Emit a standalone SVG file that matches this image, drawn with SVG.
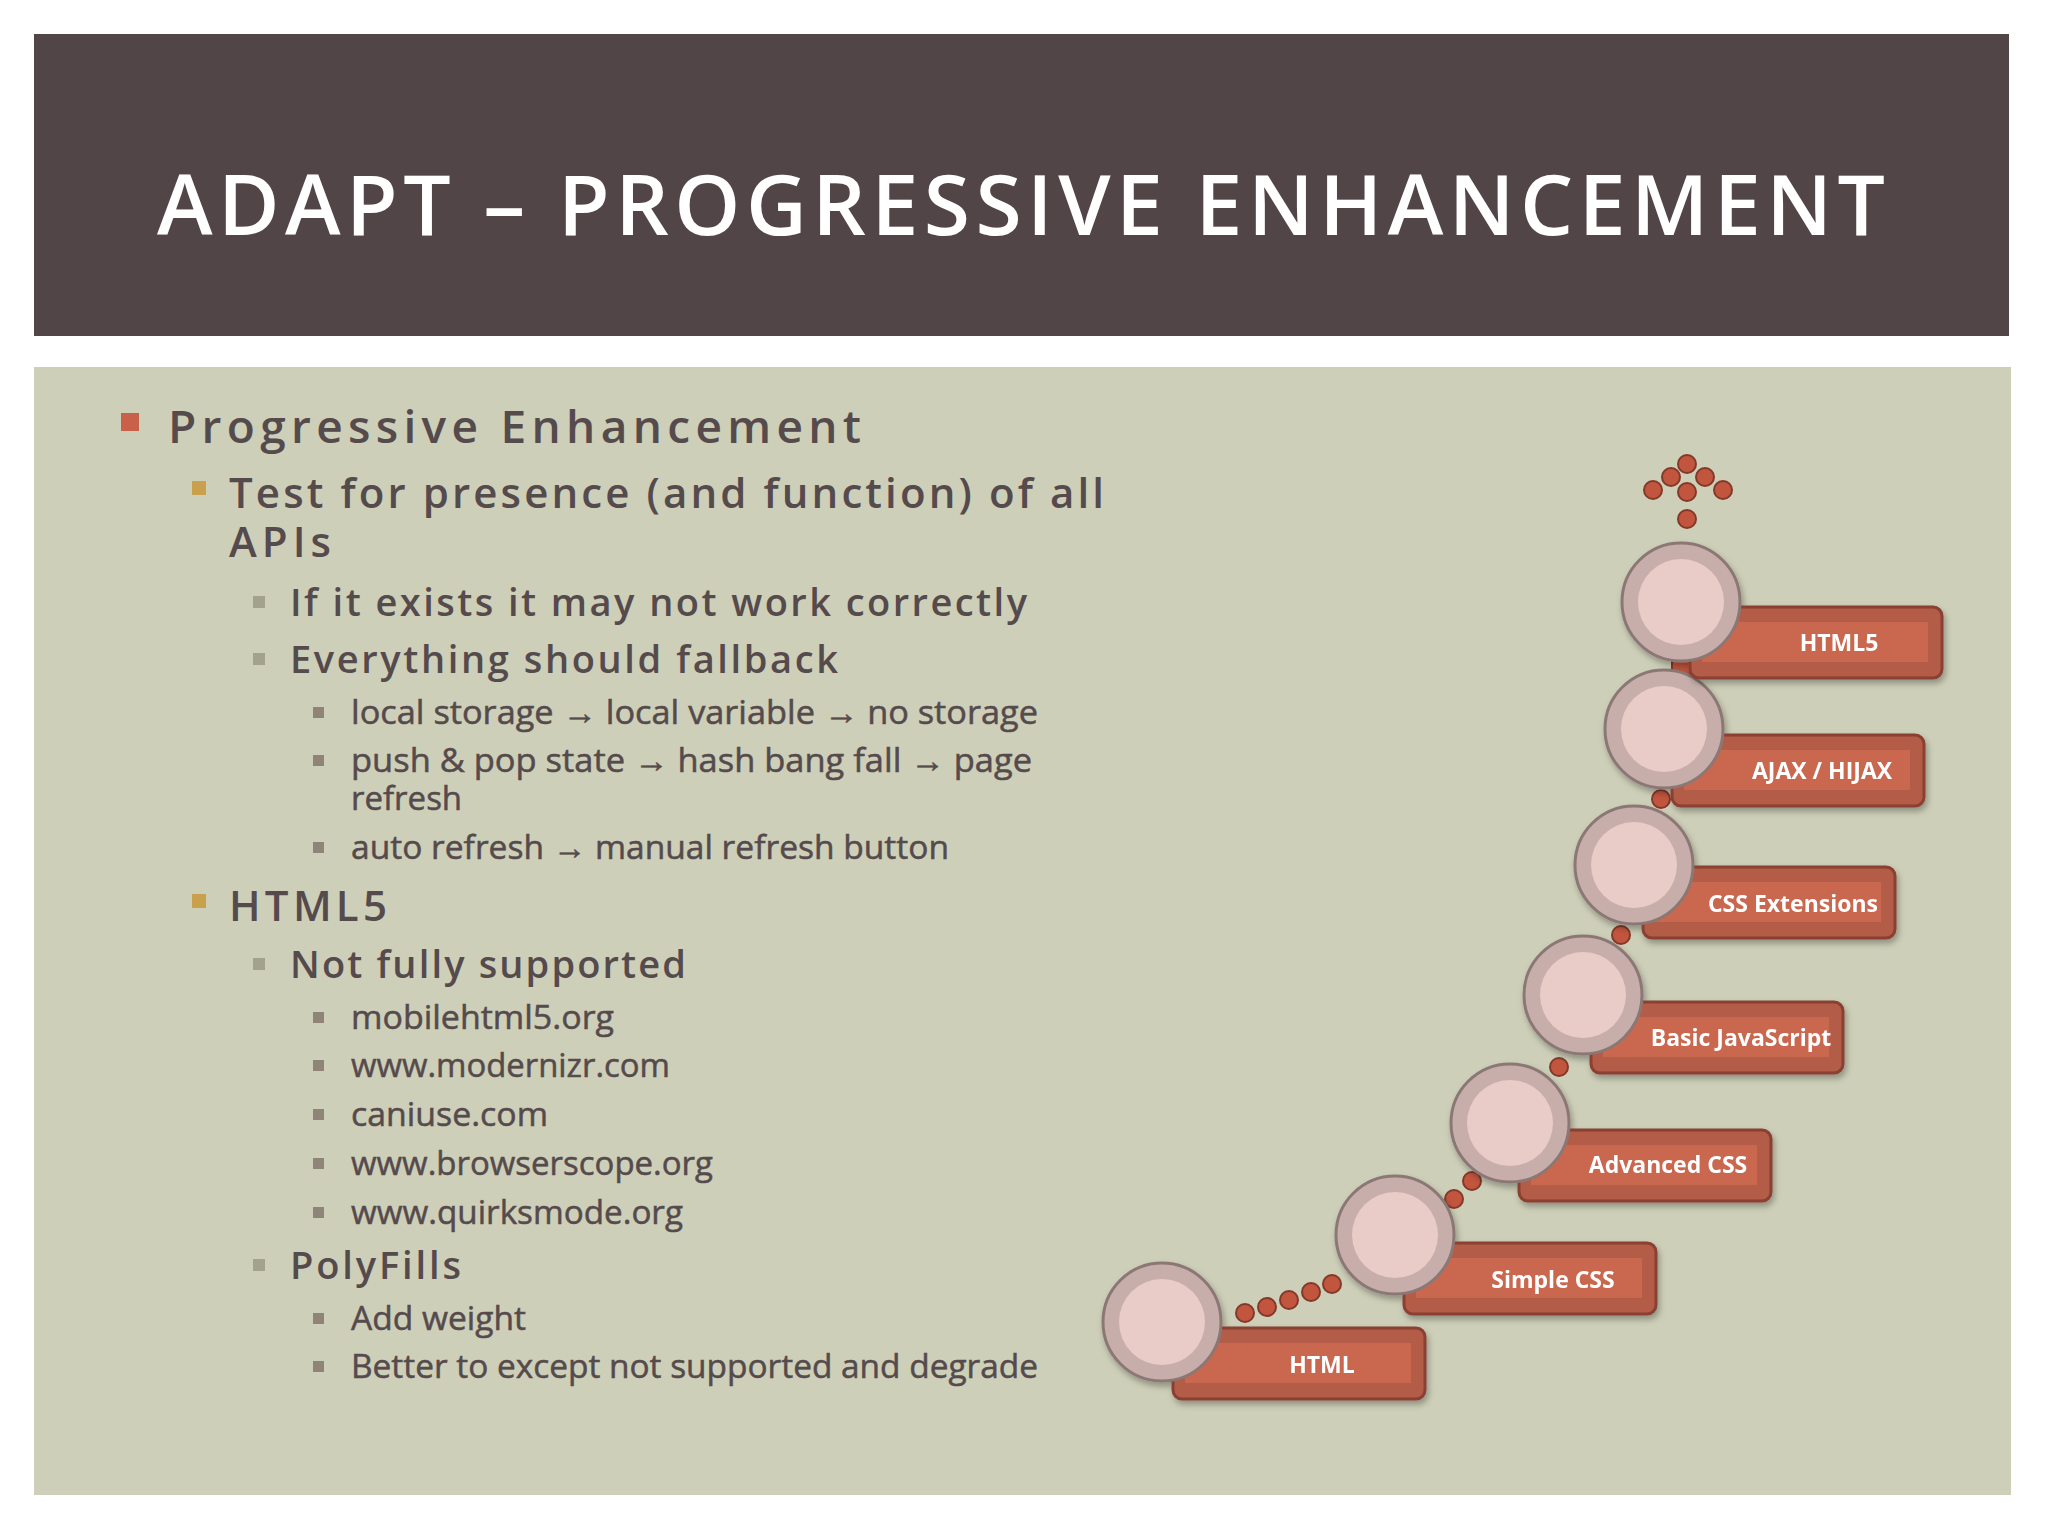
<svg xmlns="http://www.w3.org/2000/svg" width="2048" height="1536" viewBox="0 0 2048 1536">
<defs>
<style>
.t{font-family:"Open Sans","Liberation Sans",sans-serif;fill:#554a4c}
.l1{font-size:46px;font-weight:600}
.l2{font-size:42px;font-weight:600}
.l3{font-size:38px;font-weight:600}
.l4{font-size:33px;font-weight:500;stroke:#554a4c;stroke-width:0.5}
.bar{fill:#b35c47;stroke:#8a3f31;stroke-width:3}
.barin{fill:#c9674f}
.co{fill:#c7aeab;stroke:#8b7875;stroke-width:3}
.ci{fill:#e9cbc7}
.dot{fill:#c2553e;stroke:#83392a;stroke-width:2}
.lab{font-family:"Open Sans","Liberation Sans",sans-serif;font-size:23px;font-weight:700;fill:#fff;text-anchor:middle}
</style>
<filter id="sh" x="-20%" y="-20%" width="140%" height="150%"><feDropShadow dx="2" dy="4" stdDeviation="3" flood-color="#000" flood-opacity="0.3"/></filter>
</defs>
<rect width="2048" height="1536" fill="#fff"/>
<g id="header">
<rect x="34" y="34" width="1975" height="302" fill="#524548"/>
<text x="1021" y="235" text-anchor="middle" font-family="'Open Sans','Liberation Sans',sans-serif" font-size="84" font-weight="600" fill="#fff" textLength="1728" lengthAdjust="spacing">ADAPT – PROGRESSIVE ENHANCEMENT</text>
</g>
<rect x="34" y="367" width="1977" height="1128" fill="#cdcfb8"/>
<g id="bullets">
<rect x="121" y="413" width="18" height="18" fill="#c8604a"/>
<text class="t l1" x="168" y="443" textLength="693" lengthAdjust="spacing">Progressive Enhancement</text>
<rect x="192" y="481" width="14" height="14" fill="#c9a04b"/>
<text class="t l2" x="229" y="508" textLength="875" lengthAdjust="spacing">Test for presence (and function) of all</text>
<text class="t l2" x="229" y="557" textLength="102" lengthAdjust="spacing">APIs</text>
<rect x="253" y="596" width="12" height="12" fill="#a3a28d"/>
<text class="t l3" x="290" y="616" textLength="737" lengthAdjust="spacing">If it exists it may not work correctly</text>
<rect x="253" y="653" width="12" height="12" fill="#a3a28d"/>
<text class="t l3" x="290" y="673" textLength="548" lengthAdjust="spacing">Everything should fallback</text>
<rect x="313" y="707" width="11" height="11" fill="#8f8478"/>
<text class="t l4" x="351" y="724" textLength="687" lengthAdjust="spacingAndGlyphs">local storage → local variable → no storage</text>
<rect x="313" y="755" width="11" height="11" fill="#8f8478"/>
<text class="t l4" x="351" y="772" textLength="681" lengthAdjust="spacingAndGlyphs">push &amp; pop state → hash bang fall → page</text>
<text class="t l4" x="351" y="810">refresh</text>
<rect x="313" y="842" width="11" height="11" fill="#8f8478"/>
<text class="t l4" x="351" y="859" textLength="598" lengthAdjust="spacingAndGlyphs">auto refresh → manual refresh button</text>
<rect x="192" y="894" width="14" height="14" fill="#c9a04b"/>
<text class="t l2" x="229" y="921" textLength="158" lengthAdjust="spacing">HTML5</text>
<rect x="253" y="958" width="12" height="12" fill="#a3a28d"/>
<text class="t l3" x="290" y="978" textLength="396" lengthAdjust="spacing">Not fully supported</text>
<rect x="313" y="1012" width="11" height="11" fill="#8f8478"/>
<text class="t l4" x="351" y="1029" textLength="263" lengthAdjust="spacingAndGlyphs">mobilehtml5.org</text>
<rect x="313" y="1060" width="11" height="11" fill="#8f8478"/>
<text class="t l4" x="351" y="1077" textLength="319" lengthAdjust="spacingAndGlyphs">www.modernizr.com</text>
<rect x="313" y="1109" width="11" height="11" fill="#8f8478"/>
<text class="t l4" x="351" y="1126" textLength="197" lengthAdjust="spacingAndGlyphs">caniuse.com</text>
<rect x="313" y="1158" width="11" height="11" fill="#8f8478"/>
<text class="t l4" x="351" y="1175" textLength="362" lengthAdjust="spacingAndGlyphs">www.browserscope.org</text>
<rect x="313" y="1207" width="11" height="11" fill="#8f8478"/>
<text class="t l4" x="351" y="1224" textLength="332" lengthAdjust="spacingAndGlyphs">www.quirksmode.org</text>
<rect x="253" y="1259" width="12" height="12" fill="#a3a28d"/>
<text class="t l3" x="290" y="1279" textLength="171" lengthAdjust="spacing">PolyFills</text>
<rect x="313" y="1313" width="11" height="11" fill="#8f8478"/>
<text class="t l4" x="351" y="1330" textLength="175" lengthAdjust="spacingAndGlyphs">Add weight</text>
<rect x="313" y="1361" width="11" height="11" fill="#8f8478"/>
<text class="t l4" x="351" y="1378" textLength="687" lengthAdjust="spacingAndGlyphs">Better to except not supported and degrade</text>
</g>
<g id="connectors">
<circle class="dot" cx="1245" cy="1313" r="9"/><circle class="dot" cx="1267" cy="1307" r="9"/><circle class="dot" cx="1289" cy="1300" r="9"/><circle class="dot" cx="1311" cy="1292" r="9"/><circle class="dot" cx="1332" cy="1284" r="9"/>
<circle class="dot" cx="1454" cy="1199" r="9"/><circle class="dot" cx="1472" cy="1181" r="9"/>
<circle class="dot" cx="1559" cy="1067" r="9"/>
<circle class="dot" cx="1621" cy="935" r="9"/>
<circle class="dot" cx="1661" cy="799" r="9"/>
<rect x="1672" y="656" width="18" height="20" fill="#c2553e" stroke="#83392a" stroke-width="2"/>
<circle class="dot" cx="1687" cy="464" r="9"/><circle class="dot" cx="1671" cy="477" r="9"/><circle class="dot" cx="1705" cy="477" r="9"/><circle class="dot" cx="1653" cy="490" r="9"/><circle class="dot" cx="1687" cy="492" r="9"/><circle class="dot" cx="1723" cy="490" r="9"/><circle class="dot" cx="1687" cy="519" r="9"/>
</g>
<g id="step-html" filter="url(#sh)"><rect class="bar" x="1173" y="1328" width="252" height="71" rx="9"/><rect class="barin" x="1185" y="1343" width="226" height="40"/><circle class="co" cx="1162" cy="1322" r="59"/><circle class="ci" cx="1162" cy="1322" r="43"/><text class="lab" x="1322" y="1373">HTML</text></g>
<g id="step-simplecss" filter="url(#sh)"><rect class="bar" x="1404" y="1243" width="252" height="71" rx="9"/><rect class="barin" x="1416" y="1258" width="226" height="40"/><circle class="co" cx="1395" cy="1235" r="59"/><circle class="ci" cx="1395" cy="1235" r="43"/><text class="lab" x="1553" y="1288">Simple CSS</text></g>
<g id="step-advcss" filter="url(#sh)"><rect class="bar" x="1519" y="1130" width="252" height="71" rx="9"/><rect class="barin" x="1531" y="1145" width="226" height="40"/><circle class="co" cx="1510" cy="1123" r="59"/><circle class="ci" cx="1510" cy="1123" r="43"/><text class="lab" x="1668" y="1173">Advanced CSS</text></g>
<g id="step-basicjs" filter="url(#sh)"><rect class="bar" x="1591" y="1002" width="252" height="71" rx="9"/><rect class="barin" x="1603" y="1017" width="226" height="40"/><circle class="co" cx="1583" cy="995" r="59"/><circle class="ci" cx="1583" cy="995" r="43"/><text class="lab" x="1741" y="1046">Basic JavaScript</text></g>
<g id="step-cssext" filter="url(#sh)"><rect class="bar" x="1643" y="867" width="252" height="71" rx="9"/><rect class="barin" x="1655" y="882" width="226" height="40"/><circle class="co" cx="1634" cy="865" r="59"/><circle class="ci" cx="1634" cy="865" r="43"/><text class="lab" x="1793" y="912">CSS Extensions</text></g>
<g id="step-ajax" filter="url(#sh)"><rect class="bar" x="1672" y="735" width="252" height="71" rx="9"/><rect class="barin" x="1684" y="750" width="226" height="40"/><circle class="co" cx="1664" cy="729" r="59"/><circle class="ci" cx="1664" cy="729" r="43"/><text class="lab" x="1822" y="779">AJAX / HIJAX</text></g>
<g id="step-html5" filter="url(#sh)"><rect class="bar" x="1690" y="607" width="252" height="71" rx="9"/><rect class="barin" x="1702" y="622" width="226" height="40"/><circle class="co" cx="1681" cy="602" r="59"/><circle class="ci" cx="1681" cy="602" r="43"/><text class="lab" x="1839" y="651">HTML5</text></g>
</svg>
